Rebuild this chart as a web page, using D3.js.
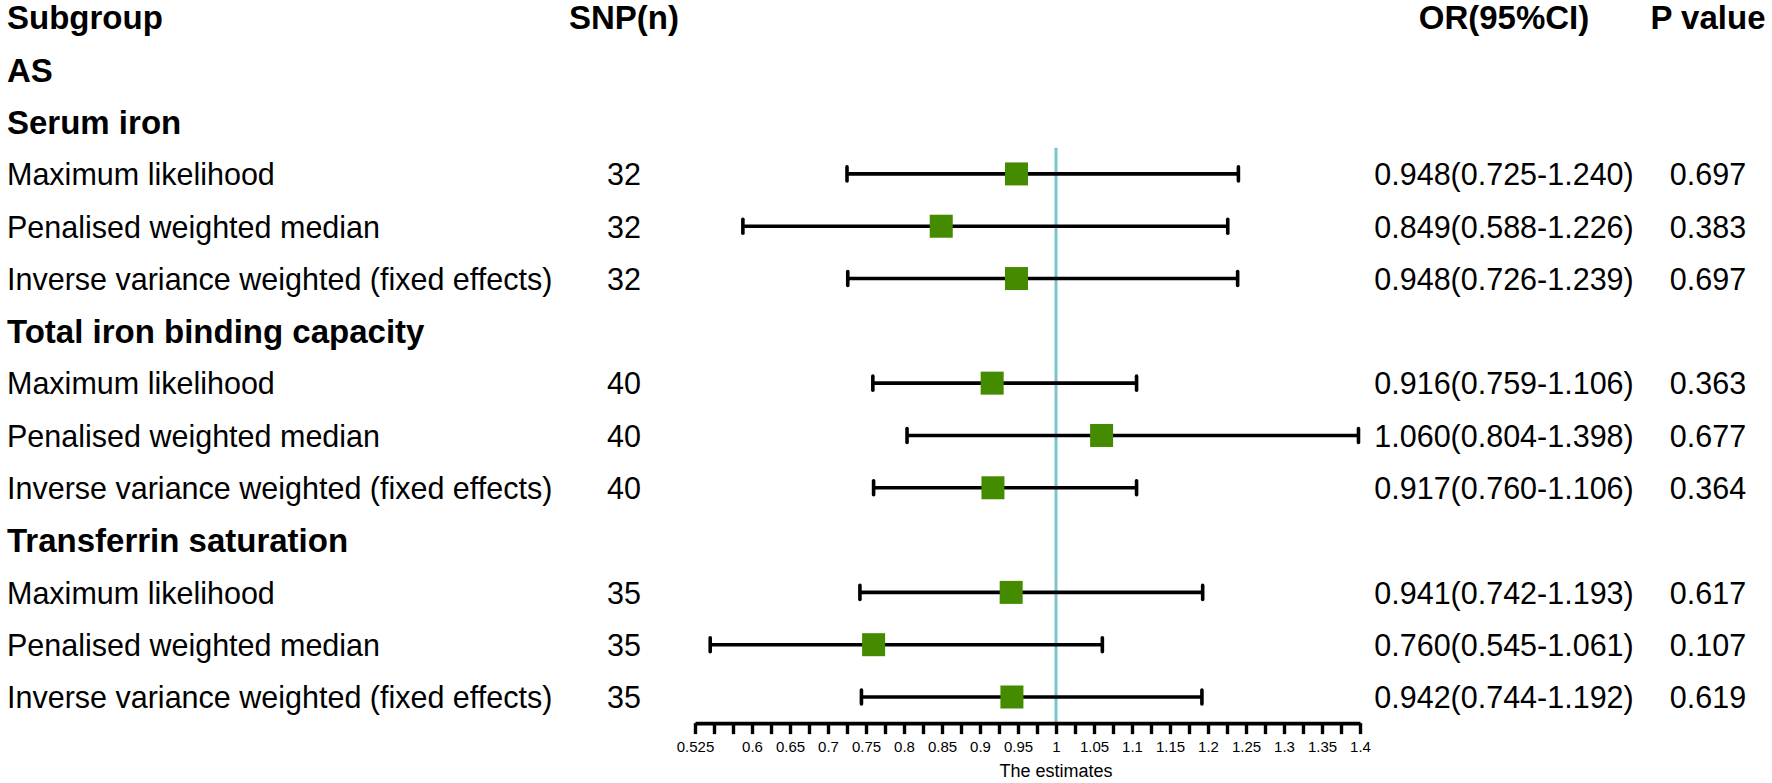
<!DOCTYPE html>
<html>
<head>
<meta charset="utf-8">
<script src="https://cdn.jsdelivr.net/npm/d3@7"></script>
<style>
  body { margin: 0; background: #fff; }
  text { font-family: "Liberation Sans", Arial, Helvetica, sans-serif; fill: #000; }
</style>
</head>
<body>
<svg id="chart" width="1772" height="783"></svg>
<script>
// table rows, top to bottom (header rows have no estimate)
var labels = ["AS", "Serum iron",
    "Maximum likelihood", "Penalised weighted median", "Inverse variance weighted (fixed effects)",
    "Total iron binding capacity",
    "Maximum likelihood", "Penalised weighted median", "Inverse variance weighted (fixed effects)",
    "Transferrin saturation",
    "Maximum likelihood", "Penalised weighted median", "Inverse variance weighted (fixed effects)"];
var isGroup = [true, true, false, false, false, true, false, false, false, true, false, false, false];
var snp   = [null, null, 32, 32, 32, null, 40, 40, 40, null, 35, 35, 35];
var est   = [null, null, 0.948, 0.849, 0.948, null, 0.916, 1.060, 0.917, null, 0.941, 0.760, 0.942];
var lower = [null, null, 0.725, 0.588, 0.726, null, 0.759, 0.804, 0.760, null, 0.742, 0.545, 0.744];
var upper = [null, null, 1.240, 1.226, 1.239, null, 1.106, 1.398, 1.106, null, 1.193, 1.061, 1.192];
var pval  = [null, null, "0.697", "0.383", "0.697", null, "0.363", "0.677", "0.364", null, "0.617", "0.107", "0.619"];

var tickLabels = [0.525, 0.6, 0.65, 0.7, 0.75, 0.8, 0.85, 0.9, 0.95, 1,
    1.05, 1.1, 1.15, 1.2, 1.25, 1.3, 1.35, 1.4];
var refValue = 1;

var svg = d3.select("#chart");

var boldSize = 33, plainSize = 30.5;

var x = d3.scaleLinear()
    .domain([0.525, 1.4])
    .range([695, 1360]);

// row 0 is the column header
var y = d3.scaleLinear()
    .domain([0, 13])
    .range([17, 697]);
var rowH = y(1) - y(0);

var colSNP = 624, colOR = 1504, colP = 1708;

var rows = labels.map(function(l, i) {
    return {
        row: i + 1, label: l, group: isGroup[i], snp: snp[i],
        est: est[i], lo: lower[i], hi: upper[i], p: pval[i]
    };
});

// headers
var headers = [
    {t: "Subgroup", x: 7, anchor: "start"},
    {t: "SNP(n)", x: colSNP, anchor: "middle"},
    {t: "OR(95%CI)", x: colOR, anchor: "middle"},
    {t: "P value", x: colP, anchor: "middle"}
];
svg.selectAll(".hdr")
    .data(headers)
    .enter().append("text")
    .attr("class", "hdr")
    .attr("x", d => d.x)
    .attr("y", y(0) + boldSize * 0.37)
    .attr("text-anchor", d => d.anchor)
    .style("font-size", boldSize + "px")
    .style("font-weight", "700")
    .text(d => d.t);

// subgroup labels
svg.selectAll(".lbl")
    .data(rows)
    .enter().append("text")
    .attr("class", "lbl")
    .attr("x", 7)
    .attr("y", d => y(d.row) + (d.group ? boldSize : plainSize) * 0.37)
    .style("font-size", d => (d.group ? boldSize : plainSize) + "px")
    .style("font-weight", d => d.group ? "700" : "400")
    .text(d => d.label);

var dataRows = rows.filter(d => !d.group);

function textCol(cls, xpos, fn) {
    svg.selectAll("." + cls)
        .data(dataRows)
        .enter().append("text")
        .attr("class", cls)
        .attr("x", xpos)
        .attr("y", d => y(d.row) + plainSize * 0.37)
        .attr("text-anchor", "middle")
        .style("font-size", plainSize + "px")
        .text(fn);
}
textCol("snp", colSNP, d => d.snp);
textCol("orci", colOR, d => d.est.toFixed(3) + "(" + d.lo.toFixed(3) + "-" + d.hi.toFixed(3) + ")");
textCol("pv", colP, d => d.p);

// reference line at 1
var axisY = y(13) + rowH / 2;
svg.append("line")
    .attr("x1", x(refValue)).attr("x2", x(refValue))
    .attr("y1", y(3) - rowH / 2).attr("y2", axisY)
    .attr("stroke", "#7ac5cd")
    .attr("stroke-width", 3);

// confidence intervals
var ci = svg.selectAll(".ci")
    .data(dataRows)
    .enter().append("g")
    .attr("class", "ci");

ci.append("line")
    .attr("x1", d => x(d.lo)).attr("x2", d => x(d.hi))
    .attr("y1", d => y(d.row)).attr("y2", d => y(d.row))
    .attr("stroke", "#000").attr("stroke-width", 3.6);

ci.selectAll(".cap")
    .data(d => [{v: d.lo, r: d.row}, {v: d.hi, r: d.row}])
    .enter().append("line")
    .attr("class", "cap")
    .attr("x1", d => x(d.v)).attr("x2", d => x(d.v))
    .attr("y1", d => y(d.r) - 7).attr("y2", d => y(d.r) + 7)
    .attr("stroke", "#000").attr("stroke-width", 3.6)
    .attr("stroke-linecap", "round");

var sq = 23;
ci.append("rect")
    .attr("x", d => x(d.est) - sq / 2)
    .attr("y", d => y(d.row) - sq / 2)
    .attr("width", sq).attr("height", sq)
    .attr("fill", "#458b00");

// x axis: ticks every 0.025, labels from tickLabels
var tickVals = d3.range(0, 36).map(i => +(0.525 + i * 0.025).toFixed(3));
var axis = d3.axisBottom(x)
    .tickValues(tickVals)
    .tickSize(11)
    .tickSizeOuter(0)
    .tickFormat(d => tickLabels.some(t => Math.abs(t - d) < 1e-6) ? d3.format("")(d) : "");

var gAxis = svg.append("g")
    .attr("transform", "translate(0," + axisY + ")")
    .call(axis);

gAxis.select(".domain")
    .attr("stroke", "#000").attr("stroke-width", 3.6);
gAxis.selectAll(".tick line")
    .attr("stroke", "#000").attr("stroke-width", 3.4);
gAxis.selectAll(".tick text")
    .attr("y", 24)
    .attr("dy", "0.35em")
    .style("font-size", "15px")
    .style("font-family", "'Liberation Sans', Arial, sans-serif")
    .attr("fill", "#000");

svg.append("text")
    .attr("x", x(refValue))
    .attr("y", axisY + 54)
    .attr("text-anchor", "middle")
    .style("font-size", "18px")
    .text("The estimates");
</script>
</body>
</html>
